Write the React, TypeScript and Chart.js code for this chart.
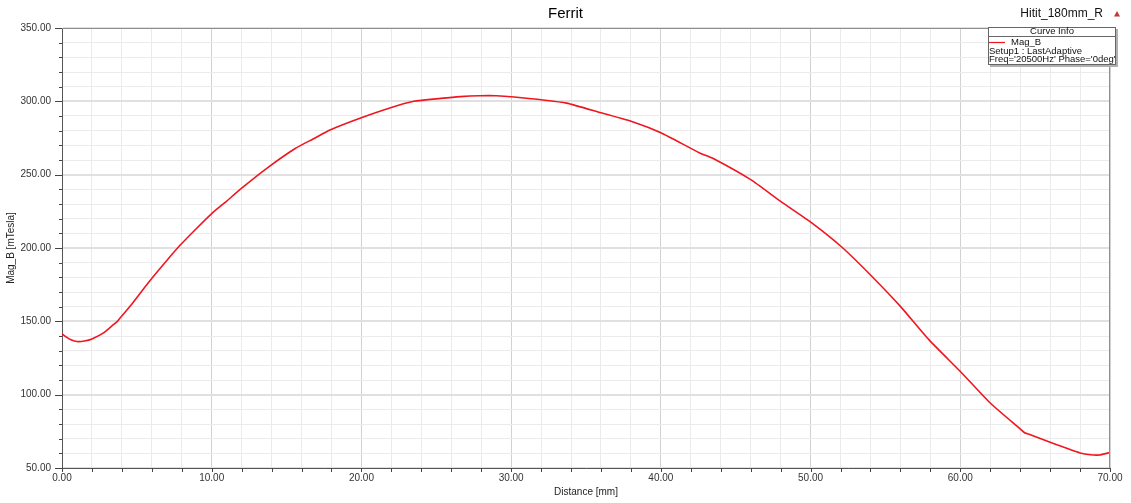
import React, { useEffect, useRef } from "react";
import { Chart, registerables } from "chart.js";

Chart.register(...registerables);

// ---- Data ----
const distanceMm: number[] = [
  0.0, 0.3, 0.6, 1.0, 1.5, 2.0, 2.8, 3.45, 3.7, 3.95, 4.6, 5.3, 6.1, 7.0, 7.9, 9.0, 10.0, 11.0, 11.9,
  13.7, 15.6, 16.8, 17.9, 19.9, 21.9, 23.5, 25.3, 26.6, 27.9, 29.0, 30.2, 31.9, 33.7,
  36.0, 38.2, 40.0, 42.6, 43.5, 46.0, 48.0, 50.1, 52.1, 54.1, 56.0, 57.9, 60.1, 62.0,
  64.05, 64.3, 64.55, 66.4, 68.0, 68.7, 69.3, 70.0,
];
const magBmT: number[] = [
  141.5, 139.2, 137.4, 136.2, 136.6, 138.0, 142.3, 147.9, 150.0, 153.1, 161.0, 170.2, 180.5, 191.5, 202.0, 213.5, 223.5, 232.0, 240.0,
  254.5, 268.0, 274.5, 280.5, 288.5, 295.5, 300.0, 302.0, 303.2, 303.8, 303.8, 303.0, 301.2, 298.8,
  292.2, 285.8, 278.6, 264.8, 261.0, 246.6, 231.8, 217.0, 200.5, 180.6, 160.2, 137.5, 114.8, 94.3,
  76.2, 74.0, 73.1, 66.0, 60.3, 59.0, 58.9, 60.6,
];

const xMin = 0;
const xMax = 70;
const xMinorStep = 2;
const xMajorStep = 10;
const yMin = 50;
const yMax = 350;
const yMinorStep = 10;
const yMajorStep = 50;

const chartTitle = "Ferrit";
const projectLabel = "Hitit_180mm_R";
const xAxisTitle = "Distance [mm]";
const yAxisTitle = "Mag_B [mTesla]";
const legendHeader = "Curve Info";
const seriesName = "Mag_B";
const legendLines = ["Setup1 : LastAdaptive", "Freq='20500Hz' Phase='0deg'"];

const FONT = "'Liberation Sans', Arial, sans-serif";
const CURVE_COLOR = "rgb(240, 22, 32)";

export default function App() {
  const ref = useRef<HTMLCanvasElement | null>(null);

  useEffect(() => {
    document.body.style.margin = "0";
    const canvas = ref.current;
    if (!canvas) return;

    const overlay = {
      id: "overlay",
      afterDraw(chart: any) {
        const ctx = chart.ctx as CanvasRenderingContext2D;
        const { left, right, top, bottom } = chart.chartArea;
        ctx.save();

        // top and right frame
        ctx.strokeStyle = "#8f8f8f";
        ctx.lineWidth = 1;
        ctx.beginPath();
        ctx.moveTo(left, top + 0.5);
        ctx.lineTo(right, top + 0.5);
        ctx.moveTo(right - 0.5, top);
        ctx.lineTo(right - 0.5, bottom);
        ctx.stroke();

        // tick marks
        ctx.strokeStyle = "#444";
        ctx.beginPath();
        const xs = chart.scales.x;
        xs.ticks.forEach((t: any) => {
          const px = Math.round(xs.getPixelForValue(t.value)) + 0.5;
          ctx.moveTo(px, bottom);
          ctx.lineTo(px, bottom + 4);
        });
        const ys = chart.scales.y;
        ys.ticks.forEach((t: any) => {
          const py = Math.round(ys.getPixelForValue(t.value)) + 0.5;
          const len = t.value % yMajorStep === 0 ? 7 : 3;
          ctx.moveTo(left - len, py);
          ctx.lineTo(left, py);
        });
        ctx.stroke();

        // title
        ctx.fillStyle = "#000";
        ctx.font = `15px ${FONT}`;
        ctx.textAlign = "center";
        ctx.textBaseline = "middle";
        ctx.fillText(chartTitle, chart.width / 2, 14);

        // project label + triangle
        ctx.font = `12px ${FONT}`;
        ctx.textAlign = "right";
        ctx.fillStyle = "#111";
        ctx.fillText(projectLabel, 1103, 14);
        ctx.fillStyle = "#c8343a";
        ctx.beginPath();
        ctx.moveTo(1114, 16.5);
        ctx.lineTo(1120, 16.5);
        ctx.lineTo(1117, 11);
        ctx.closePath();
        ctx.fill();

        // legend box
        const bx = 988, by = 27, bw = 128, bh = 38;
        ctx.fillStyle = "#b0b0b0";
        ctx.fillRect(bx + 2, by + 2, bw, bh);
        ctx.fillStyle = "#fff";
        ctx.fillRect(bx, by, bw, bh);
        ctx.strokeStyle = "#666";
        ctx.lineWidth = 1;
        ctx.strokeRect(bx + 0.5, by + 0.5, bw - 1, bh - 1);
        ctx.beginPath();
        ctx.moveTo(bx, 36.5);
        ctx.lineTo(bx + bw, 36.5);
        ctx.stroke();

        ctx.fillStyle = "#111";
        ctx.font = `9.5px ${FONT}`;
        ctx.textAlign = "center";
        ctx.fillText(legendHeader, bx + bw / 2, 31.5);

        ctx.strokeStyle = CURVE_COLOR;
        ctx.lineWidth = 1.2;
        ctx.beginPath();
        ctx.moveTo(989, 42.5);
        ctx.lineTo(1005, 42.5);
        ctx.stroke();

        ctx.textAlign = "left";
        ctx.fillText(seriesName, 1011, 42.5);
        ctx.fillText(legendLines[0], 989, 51.7);
        ctx.fillText(legendLines[1], 989, 59.4);

        ctx.restore();
      },
    };

    const points = distanceMm.map((x, i) => ({ x, y: magBmT[i] }));

    const chart = new Chart(canvas, {
      type: "line",
      data: {
        datasets: [
          {
            label: seriesName,
            data: points,
            borderColor: CURVE_COLOR,
            borderWidth: 1.6,
            pointRadius: 0,
            tension: 0.2,
            fill: false,
          },
        ],
      },
      options: {
        responsive: false,
        animation: false,
        events: [],
        layout: { padding: { top: 28, right: 21, bottom: 0, left: 0 } },
        plugins: {
          legend: { display: false },
          title: { display: false },
          tooltip: { enabled: false },
        },
        scales: {
          x: {
            type: "linear",
            min: xMin,
            max: xMax,
            afterFit(scale: any) {
              scale.height = 35;
              scale.paddingLeft = 0;
              scale.paddingRight = 0;
            },
            ticks: {
              stepSize: xMinorStep,
              autoSkip: false,
              maxRotation: 0,
              padding: 4,
              color: "#333",
              font: { family: FONT, size: 10 },
              callback: (v: any) => (Number(v) % xMajorStep === 0 ? Number(v).toFixed(2) : ""),
            },
            grid: {
              drawTicks: false,
              color: (c: any) => (c.tick && c.tick.value % xMajorStep === 0 ? "#d2d2d2" : "#ebebeb"),
              lineWidth: 1,
            },
            border: { color: "#555", width: 1 },
            title: {
              display: true,
              text: xAxisTitle,
              color: "#222",
              font: { family: FONT, size: 10 },
              padding: { top: 0, bottom: 5 },
            },
          },
          y: {
            type: "linear",
            min: yMin,
            max: yMax,
            afterFit(scale: any) {
              scale.width = 62;
              scale.paddingTop = 0;
              scale.paddingBottom = 0;
            },
            ticks: {
              stepSize: yMinorStep,
              autoSkip: false,
              padding: 11,
              color: "#333",
              font: { family: FONT, size: 10 },
              callback: (v: any) => (Number(v) % yMajorStep === 0 ? Number(v).toFixed(2) : ""),
            },
            grid: {
              drawTicks: false,
              color: (c: any) => (c.tick && c.tick.value % yMajorStep === 0 ? "#e0e0e0" : "#ebebeb"),
              lineWidth: (c: any) => (c.tick && c.tick.value % yMajorStep === 0 ? 2 : 1),
            },
            border: { color: "#555", width: 1 },
            title: {
              display: true,
              text: yAxisTitle,
              color: "#222",
              font: { family: FONT, size: 10 },
              padding: { top: 5, bottom: 0 },
            },
          },
        },
      },
      plugins: [overlay],
    });

    return () => chart.destroy();
  }, []);

  return (
    <div style={{ width: 1131, height: 503, background: "#fff" }}>
      <canvas ref={ref} width={1131} height={503} style={{ display: "block" }} />
    </div>
  );
}
